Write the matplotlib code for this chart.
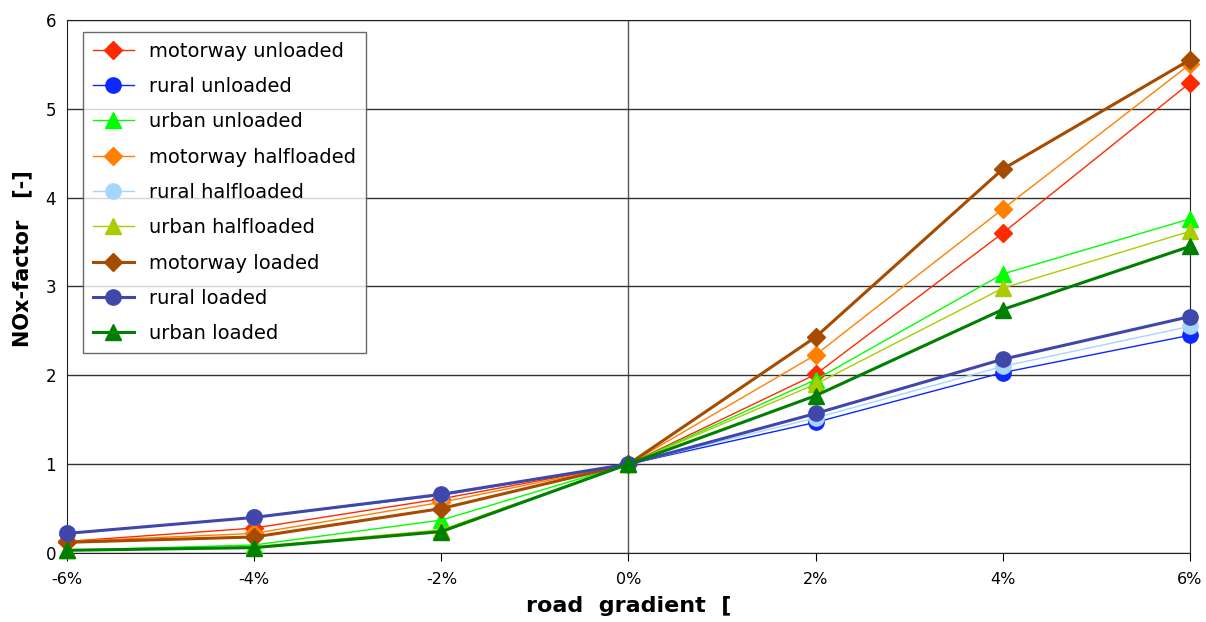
import matplotlib.pyplot as plt

# road gradient in percent
gradient = [-6, -4, -2, 0, 2, 4, 6]
tick_labels = ["-6%", "-4%", "-2%", "0%", "2%", "4%", "6%"]

motorway_unloaded = [0.13, 0.28, 0.61, 1.0, 2.01, 3.60, 5.29]
rural_unloaded = [0.22, 0.40, 0.65, 1.0, 1.47, 2.03, 2.45]
urban_unloaded = [0.03, 0.09, 0.37, 1.0, 1.95, 3.14, 3.76]
motorway_halfloaded = [0.13, 0.22, 0.57, 1.0, 2.23, 3.87, 5.50]
rural_halfloaded = [0.22, 0.40, 0.65, 1.0, 1.52, 2.10, 2.55]
urban_halfloaded = [0.03, 0.07, 0.26, 1.0, 1.90, 2.98, 3.62]
motorway_loaded = [0.12, 0.18, 0.50, 1.0, 2.43, 4.32, 5.55]
rural_loaded = [0.22, 0.40, 0.66, 1.0, 1.57, 2.18, 2.66]
urban_loaded = [0.03, 0.06, 0.24, 1.0, 1.77, 2.74, 3.45]

series = [
    ("motorway unloaded", motorway_unloaded, "#ff2a00", "D", 1.0, 9),
    ("rural unloaded", rural_unloaded, "#0a28ff", "o", 1.0, 11),
    ("urban unloaded", urban_unloaded, "#00ff00", "^", 1.0, 11),
    ("motorway halfloaded", motorway_halfloaded, "#ff7f00", "D", 1.0, 9),
    ("rural halfloaded", rural_halfloaded, "#a6d5ff", "o", 1.0, 11),
    ("urban halfloaded", urban_halfloaded, "#aacc00", "^", 1.0, 11),
    ("motorway loaded", motorway_loaded, "#a64b00", "D", 2.2, 9),
    ("rural loaded", rural_loaded, "#3f48aa", "o", 2.2, 11),
    ("urban loaded", urban_loaded, "#008000", "^", 2.2, 11),
]

plt.rcParams['font.family'] = ['DejaVu Sans']

fig = plt.figure(figsize=(12.06, 6.22), dpi=100)
ax = fig.add_axes([0.0556, 0.111, 0.931, 0.857])

for label, vals, col, mk, lw, ms in series:
    ax.plot(gradient, vals, color=col, marker=mk, lw=lw, ms=ms,
            markeredgecolor=col, label=label, zorder=3, clip_on=False)

ax.set_xlim(-6, 6)
ax.set_ylim(0, 6)
ax.set_xticks(gradient)
ax.set_xticklabels(tick_labels, fontsize=11.5)
ax.set_yticks(range(7))
ax.tick_params(axis='y', length=0, labelsize=12, pad=8)
ax.tick_params(axis='x', direction='out', length=6, pad=8)

# grid: horizontal lines at each unit, one vertical line at 0%
ax.yaxis.grid(True, color='#333333', lw=1)
ax.axvline(0, color='#555555', lw=1, zorder=1)
for s in ax.spines.values():
    s.set_color('#222222')

ax.set_ylabel("NOx-factor   [-]", fontsize=15, fontweight='bold')
ax.yaxis.set_label_coords(-0.031, 0.552)
ax.set_xlabel("road  gradient  [", fontsize=16, fontweight='bold', labelpad=6)

leg = ax.legend(loc='upper left', bbox_to_anchor=(0.0142, 0.9775), borderaxespad=0,
                fontsize=14, frameon=True, fancybox=False, edgecolor='#444444',
                handlelength=2.1, handletextpad=0.8, borderpad=0.5,
                labelspacing=0.84)
leg.get_frame().set_linewidth(1)
leg.set_zorder(5)

fig.savefig("out.png", dpi=100)
